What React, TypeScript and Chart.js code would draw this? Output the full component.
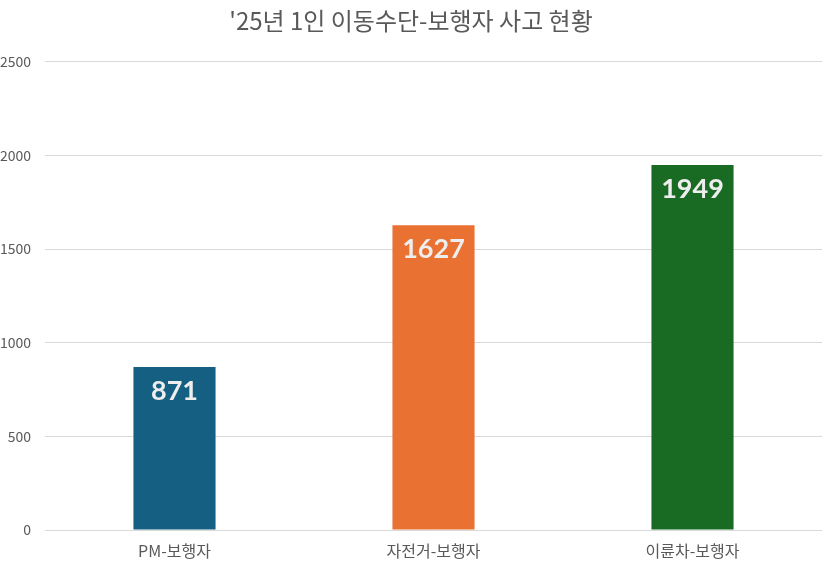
import { useEffect, useRef } from "react";
import { Chart, registerables, Plugin } from "chart.js";

Chart.register(...registerables);

const categories = ["PM-보행자", "자전거-보행자", "이륜차-보행자"];
const accidents = [871, 1627, 1949];
const barColors = ["#156082", "#E97132", "#196B24"];
const yTicks = [0, 500, 1000, 1500, 2000, 2500];

const labelFont = "Lato, 'Noto Sans CJK KR', sans-serif";
const textFont = "'Noto Sans CJK KR', 'Noto Sans', sans-serif";

// light numbers drawn inside the top of each bar
const barLabels: Plugin<"bar"> = {
  id: "barLabels",
  afterDatasetsDraw(chart) {
    const { ctx } = chart;
    const meta = chart.getDatasetMeta(0);
    ctx.save();
    ctx.font = `bold 27px ${labelFont}`;
    ctx.fillStyle = "#eeeeee";
    ctx.textAlign = "center";
    ctx.textBaseline = "middle";
    meta.data.forEach((el, i) => {
      ctx.fillText(String(accidents[i]), el.x, el.y + 24);
    });
    ctx.restore();
  },
};

const App = () => {
  const canvasRef = useRef<HTMLCanvasElement | null>(null);
  const chartRef = useRef<Chart | null>(null);

  useEffect(() => {
    if (!canvasRef.current) return;
    const ctx = canvasRef.current.getContext("2d");
    if (!ctx) return;

    chartRef.current = new Chart(ctx, {
      type: "bar",
      data: {
        labels: categories,
        datasets: [
          {
            label: "사고 건수",
            data: accidents,
            backgroundColor: barColors,
            borderWidth: 0,
            categoryPercentage: 1,
            barPercentage: 0.317,
          },
        ],
      },
      options: {
        responsive: true,
        maintainAspectRatio: false,
        animation: false,
        layout: { padding: { top: 0, right: 4, bottom: 6, left: 0 } },
        plugins: {
          legend: { display: false },
          tooltip: { enabled: false },
          title: {
            display: true,
            text: "'25년 1인 이동수단-보행자 사고 현황",
            color: "#595959",
            font: { family: textFont, size: 24, weight: "normal" },
            padding: { top: 6, bottom: 27 },
          },
        },
        scales: {
          x: {
            afterFit: (scale) => {
              scale.height = 29;
            },
            grid: { display: false, drawTicks: false },
            border: { display: false },
            ticks: {
              color: "#595959",
              padding: 11,
              font: { family: textFont, size: 16 },
            },
          },
          y: {
            min: 0,
            max: 2500,
            afterFit: (scale) => {
              scale.width = 45;
            },
            afterBuildTicks: (scale) => {
              scale.ticks = yTicks.map((v) => ({ value: v }));
            },
            grid: { color: "#d9d9d9", drawTicks: false },
            border: { display: false },
            ticks: {
              color: "#595959",
              padding: 14,
              font: { family: textFont, size: 14 },
              callback: (v) => String(v),
            },
          },
        },
      },
      plugins: [barLabels],
    });

    return () => {
      chartRef.current?.destroy();
    };
  }, []);

  return (
    <div style={{ position: "absolute", left: 0, top: 0, width: 826, height: 565 }}>
      <canvas ref={canvasRef} />
    </div>
  );
};

export default App;
